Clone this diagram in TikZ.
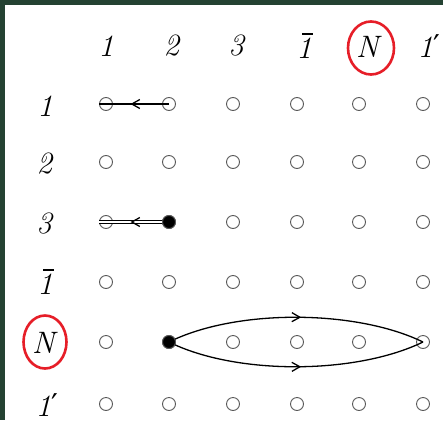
\documentclass[tikz,border=0pt]{standalone}
\usepackage{fontspec}
\newfontfamily\symf{DejaVu Sans}
\usetikzlibrary{arrows.meta,decorations.markings}
\definecolor{frame}{RGB}{36,66,50}
\definecolor{ringred}{RGB}{230,30,40}
\newcommand{\barone}{\leavevmode\rlap{\kern0.2em\raisebox{0.78em}{\rule{0.34em}{0.05em}}}\textit{1}}
\newcommand{\oneprime}{\textit{1}\kern0.02em{\symf\fontsize{30}{34}\selectfont\raisebox{0.02em}{′}}}
\begin{document}
\begin{tikzpicture}[x=1pt,y=-1pt,
  dot/.style={circle,draw=black!65,line width=0.9pt,minimum size=13pt,inner sep=0pt},
  fdot/.style={dot,fill=black},
  lab/.style={font=\fontsize{31}{36}\selectfont\addfontfeatures{FakeBold=1.2},inner sep=0pt},
  midarrow/.style={postaction={decorate},decoration={markings,
     mark=at position #1 with {\arrow{Straight Barb[length=8pt,width=9pt,line width=1.3pt]}}}},
  conn/.style={line width=1.3pt}]
\useasboundingbox (0,0) rectangle (443,420);
\fill[frame] (0,0) rectangle (443,420);
\fill[white] (5,5) rectangle (443,420);
% header labels
\node[lab] (h1) at (106,46) {\textit{1}};
\node[lab] (h2) at (172,46) {\textit{2}};
\node[lab] (h3) at (237,46) {\textit{3}};
\node[lab] (h4) at (304,46) {\barone};
\node[lab] (h5) at (369,47) {\textit{N}};
\node[lab] (h6) at (429,46) {\oneprime};
% row labels
\node[lab] (v1) at (45,106) {\textit{1}};
\node[lab] (v2) at (45,164) {\textit{2}};
\node[lab] (v3) at (45,224) {\textit{3}};
\node[lab] (v4) at (45,282) {\barone};
\node[lab] (v5) at (45,343) {\textit{N}};
\node[lab] (v6) at (47,405) {\oneprime};
% rings
\draw[ringred,line width=2.6pt] (371,48) ellipse [x radius=23,y radius=26.5];
\draw[ringred,line width=2.6pt] (45,342) ellipse [x radius=21.5,y radius=26.5];
% grid
\foreach \x [count=\i] in {106,169,233,297,359,423}{
  \foreach \y [count=\j] in {104,162,222,282,342,404}{
    \node[dot] (r\j c\i) at (\x,\y) {};
  }
}
% connectors
\draw[conn,midarrow=0.55] (r1c2.center) -- (r1c1.west);
\draw[double=white,double distance=2.2pt,line width=1.2pt,midarrow=0.55] (r3c2.center) -- (r3c1.west);
\draw[conn,midarrow=0.52] (r5c2.center) .. controls (235,309) and (355,309) .. (r5c6.center);
\draw[conn,midarrow=0.52] (r5c2.center) .. controls (235,375) and (355,375) .. (r5c6.center);
\node[fdot] (f3) at (r3c2) {};
\node[fdot] (f5) at (r5c2) {};
\end{tikzpicture}
\end{document}
